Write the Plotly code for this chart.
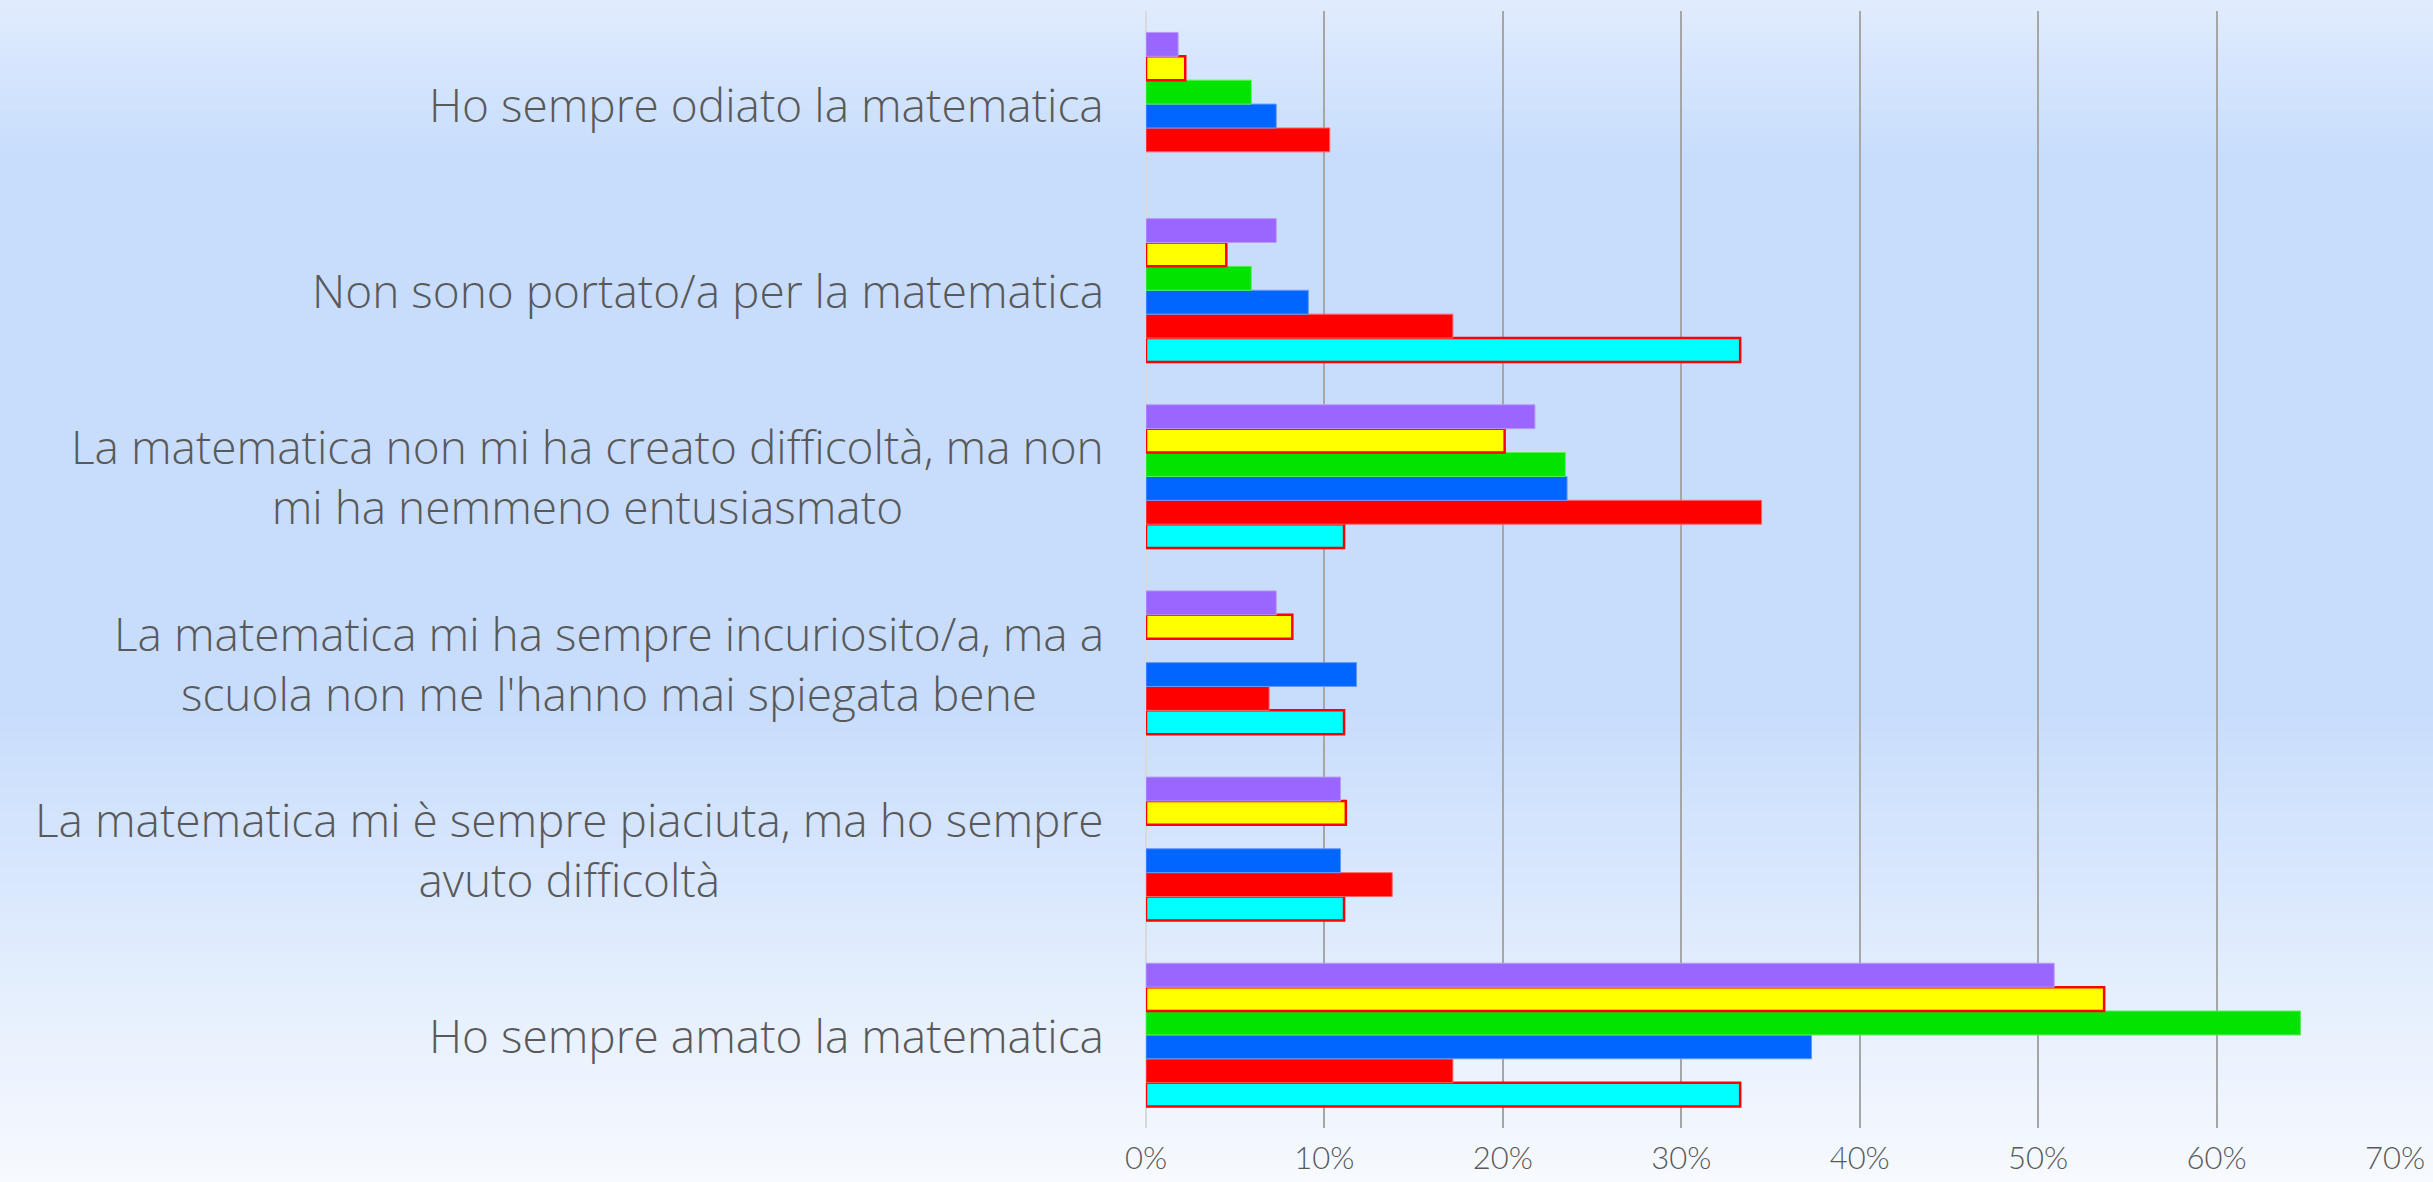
import plotly.graph_objects as go

# categories, bottom to top
categories = [
    "Ho sempre amato la matematica",
    "La matematica mi è sempre piaciuta, ma ho sempre<br>avuto difficoltà",
    "La matematica mi ha sempre incuriosito/a, ma a<br>scuola non me l'hanno mai spiegata bene",
    "La matematica non mi ha creato difficoltà, ma non<br>mi ha nemmeno entusiasmato",
    "Non sono portato/a per la matematica",
    "Ho sempre odiato la matematica",
]

# percentages per series (bottom bar of each group first)
serie_1 = [33.3, 11.1, 11.1, 11.1, 33.3, 0]
serie_2 = [17.2, 13.8, 6.9, 34.5, 17.2, 10.3]
serie_3 = [37.3, 10.9, 11.8, 23.6, 9.1, 7.3]
serie_4 = [64.7, 0, 0, 23.5, 5.9, 5.9]
serie_5 = [53.7, 11.2, 8.2, 20.1, 4.5, 2.2]
serie_6 = [50.9, 10.9, 7.3, 21.8, 7.3, 1.8]

series_names = ["Serie 1", "Serie 2", "Serie 3", "Serie 4", "Serie 5", "Serie 6"]
x_ticks = [0, 10, 20, 30, 40, 50, 60, 70]
x_tick_labels = ["0%", "10%", "20%", "30%", "40%", "50%", "60%", "70%"]

W, H = 2433, 1182
ML, MR, MT, MB = 1146, 38, 11, 54
plot_w = W - ML - MR
plot_h = H - MT - MB

styles = [
    ("#00FFFF", "#FF0000", 2.5),
    ("#FF0000", "#FF6666", 1),
    ("#0066FF", "#6699FF", 1),
    ("#00E400", "#55EE55", 1),
    ("#FFFF00", "#FF0000", 2.5),
    ("#9966FF", "#BB99FF", 1),
]

fig = go.Figure()
for name, vals, (fill, edge, lw) in zip(
        series_names,
        [serie_1, serie_2, serie_3, serie_4, serie_5, serie_6],
        styles):
    # no outline on empty bars, so they stay invisible
    widths = [lw if v > 0 else 0 for v in vals]
    fig.add_trace(go.Bar(
        y=categories, x=vals, name=name, orientation="h",
        marker=dict(color=fill, line=dict(color=edge, width=widths)),
    ))

# background gradient, drawn as thin strips over the whole page
stops = [(0.0, (225, 236, 253)), (0.13, (200, 221, 252)),
         (0.6, (200, 221, 252)), (1.0, (247, 250, 254))]


def grad(t):
    for (t0, c0), (t1, c1) in zip(stops[:-1], stops[1:]):
        if t0 <= t <= t1:
            f = (t - t0) / (t1 - t0)
            return "rgb(%d,%d,%d)" % tuple(round(a + (b - a) * f) for a, b in zip(c0, c1))
    return "rgb(%d,%d,%d)" % stops[-1][1]


shapes = []
n = 150
for i in range(n):
    y0_px = H * i / n
    y1_px = H * (i + 1) / n + 1
    shapes.append(dict(
        type="rect", xref="paper", yref="paper", layer="below",
        x0=-ML / plot_w, x1=1 + MR / plot_w,
        y0=(H - MB - y1_px) / plot_h, y1=(H - MB - y0_px) / plot_h,
        fillcolor=grad((i + 0.5) / n), line=dict(width=0),
    ))

annotations = []
for cat in categories:
    annotations.append(dict(
        x=0, xref="paper", y=cat, yref="y", xanchor="right", xshift=-40,
        text=cat, showarrow=False, align="center",
        font=dict(family="Open Sans", size=46, color="#595959", weight=300),
    ))

fig.update_layout(
    width=W, height=H,
    margin=dict(l=ML, r=MR, t=MT, b=MB, autoexpand=False),
    barmode="group", bargap=0.23, bargroupgap=0,
    showlegend=False,
    paper_bgcolor="rgb(247,250,254)", plot_bgcolor="rgba(0,0,0,0)",
    shapes=shapes, annotations=annotations,
    font=dict(family="Lato", color="#595959"),
)
fig.update_xaxes(
    range=[0, 70], tickmode="array", tickvals=x_ticks, ticktext=x_tick_labels,
    showgrid=True, gridcolor="#A6A6A6", gridwidth=2,
    zeroline=True, zerolinecolor="#D9D9D9", zerolinewidth=2,
    tickfont=dict(family="Lato", size=31, color="#595959", weight=300),
    ticklabelstandoff=9, showline=False, automargin=False,
)
fig.update_yaxes(
    categoryorder="array", categoryarray=categories,
    showticklabels=False, showgrid=False, zeroline=False, automargin=False,
)

fig.write_html("out.html", config={"displayModeBar": False},
               post_script="document.body.style.margin='0';")
